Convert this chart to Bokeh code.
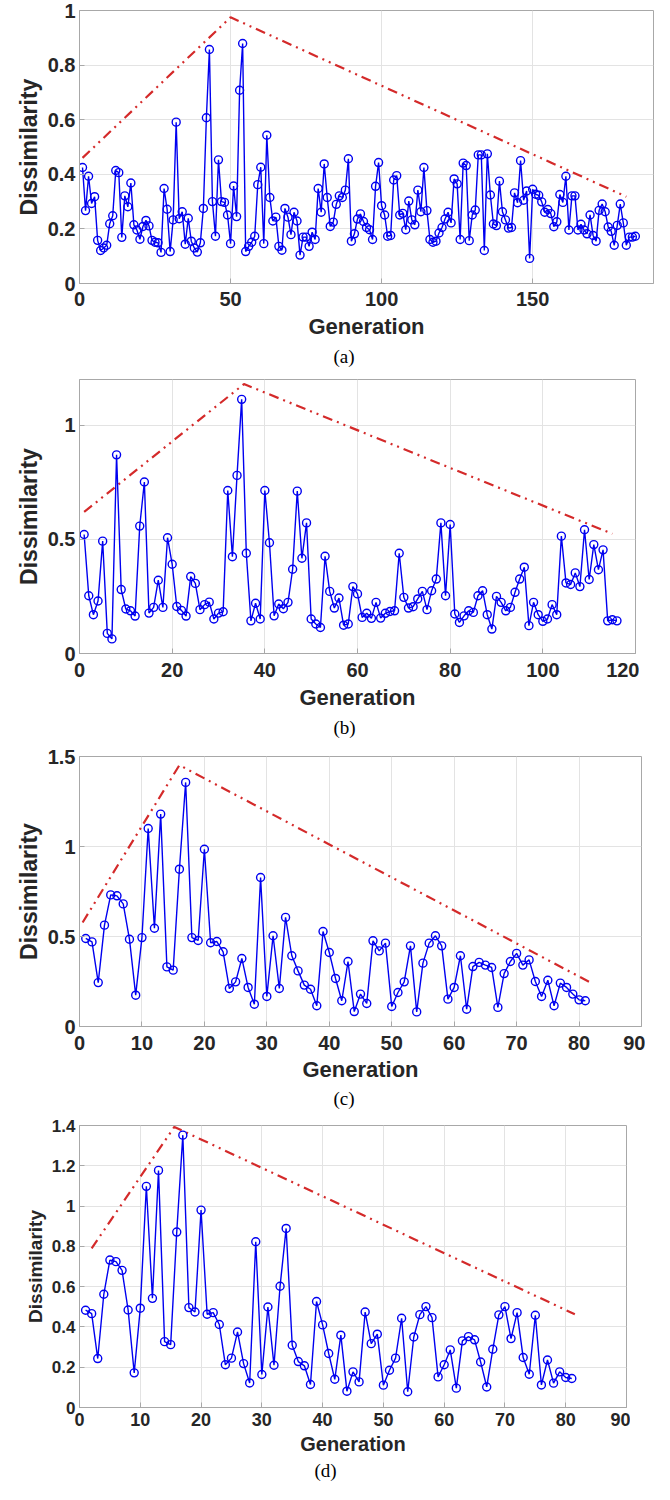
from bokeh.plotting import figure
from bokeh.layouts import column
from bokeh.models import FixedTicker, CustomJSTickFormatter, Title, Range1d
from bokeh.embed import file_html
from bokeh.resources import INLINE

# ---------------- data ----------------
gen_a = list(range(1, 185))
dis_a = [0.425, 0.267, 0.393, 0.293, 0.318, 0.158, 0.121, 0.130, 0.140, 0.219,
         0.248, 0.414, 0.406, 0.169, 0.321, 0.281, 0.368, 0.215, 0.196, 0.162,
         0.209, 0.231, 0.211, 0.158, 0.151, 0.149, 0.114, 0.348, 0.272, 0.117,
         0.233, 0.591, 0.237, 0.263, 0.144, 0.239, 0.155, 0.130, 0.115, 0.149,
         0.275, 0.607, 0.857, 0.300, 0.173, 0.453, 0.300, 0.297, 0.251, 0.146,
         0.357, 0.245, 0.708, 0.879, 0.117, 0.136, 0.151, 0.173, 0.362, 0.426,
         0.146, 0.543, 0.315, 0.229, 0.243, 0.136, 0.122, 0.275, 0.243, 0.179,
         0.261, 0.229, 0.104, 0.170, 0.170, 0.136, 0.188, 0.161, 0.348, 0.261,
         0.438, 0.315, 0.209, 0.225, 0.290, 0.321, 0.315, 0.342, 0.457, 0.155,
         0.182, 0.236, 0.255, 0.227, 0.205, 0.197, 0.161, 0.356, 0.443, 0.285,
         0.251, 0.173, 0.176, 0.379, 0.395, 0.251, 0.257, 0.197, 0.302, 0.233,
         0.215, 0.342, 0.263, 0.425, 0.267, 0.161, 0.151, 0.155, 0.185, 0.205,
         0.236, 0.261, 0.222, 0.383, 0.365, 0.161, 0.441, 0.432, 0.157, 0.251,
         0.269, 0.471, 0.471, 0.121, 0.475, 0.324, 0.218, 0.212, 0.375, 0.263,
         0.233, 0.203, 0.205, 0.332, 0.296, 0.450, 0.305, 0.339, 0.092, 0.345,
         0.327, 0.323, 0.299, 0.261, 0.271, 0.256, 0.208, 0.226, 0.326, 0.297,
         0.393, 0.196, 0.321, 0.321, 0.196, 0.217, 0.196, 0.182, 0.251, 0.176,
         0.155, 0.268, 0.291, 0.263, 0.207, 0.191, 0.140, 0.213, 0.291, 0.222,
         0.140, 0.170, 0.170, 0.173]
env_a_x = [1, 50, 181]
env_a_y = [0.46, 0.975, 0.318]

gen_b = list(range(1, 117))
dis_b = [0.521, 0.253, 0.170, 0.230, 0.492, 0.088, 0.064, 0.870, 0.280, 0.195,
         0.187, 0.164, 0.558, 0.751, 0.177, 0.202, 0.321, 0.202, 0.507, 0.391,
         0.206, 0.189, 0.164, 0.337, 0.307, 0.192, 0.214, 0.225, 0.151, 0.177,
         0.183, 0.714, 0.424, 0.780, 1.113, 0.439, 0.143, 0.220, 0.151, 0.714,
         0.485, 0.165, 0.217, 0.196, 0.224, 0.369, 0.711, 0.417, 0.572, 0.151,
         0.129, 0.114, 0.426, 0.272, 0.199, 0.243, 0.124, 0.129, 0.293, 0.261,
         0.158, 0.176, 0.154, 0.224, 0.155, 0.176, 0.184, 0.187, 0.439, 0.246,
         0.199, 0.205, 0.239, 0.272, 0.192, 0.275, 0.326, 0.572, 0.253, 0.565,
         0.173, 0.136, 0.165, 0.187, 0.180, 0.253, 0.275, 0.170, 0.107, 0.250,
         0.224, 0.187, 0.202, 0.268, 0.326, 0.378, 0.122, 0.224, 0.170, 0.141,
         0.151, 0.214, 0.170, 0.514, 0.309, 0.302, 0.353, 0.293, 0.542, 0.324,
         0.477, 0.367, 0.454, 0.143, 0.148, 0.143]
env_b_x = [1, 35.5, 115]
env_b_y = [0.62, 1.18, 0.524]

gen_c = list(range(1, 82))
dis_c = [0.489, 0.470, 0.244, 0.563, 0.731, 0.726, 0.681, 0.485, 0.174, 0.494,
         1.100, 0.546, 1.180, 0.331, 0.313, 0.874, 1.356, 0.494, 0.478, 0.985,
         0.465, 0.472, 0.415, 0.211, 0.248, 0.378, 0.217, 0.124, 0.828, 0.167,
         0.504, 0.211, 0.606, 0.393, 0.309, 0.230, 0.207, 0.115, 0.528, 0.411,
         0.267, 0.143, 0.361, 0.083, 0.180, 0.128, 0.476, 0.420, 0.463, 0.111,
         0.189, 0.248, 0.448, 0.081, 0.352, 0.463, 0.504, 0.448, 0.152, 0.217,
         0.393, 0.096, 0.333, 0.356, 0.341, 0.328, 0.106, 0.294, 0.361, 0.406,
         0.341, 0.370, 0.250, 0.167, 0.257, 0.115, 0.241, 0.217, 0.180, 0.148,
         0.143]
env_c_x = [0.5, 16, 82]
env_c_y = [0.578, 1.452, 0.241]

gen_d = list(range(1, 82))
dis_d = [0.483, 0.466, 0.243, 0.562, 0.732, 0.724, 0.681, 0.484, 0.172, 0.493,
         1.098, 0.542, 1.177, 0.327, 0.312, 0.871, 1.352, 0.496, 0.474, 0.980,
         0.463, 0.471, 0.412, 0.212, 0.245, 0.375, 0.218, 0.122, 0.823, 0.164,
         0.499, 0.210, 0.602, 0.889, 0.309, 0.228, 0.207, 0.114, 0.526, 0.410,
         0.268, 0.140, 0.359, 0.081, 0.177, 0.127, 0.474, 0.317, 0.364, 0.111,
         0.185, 0.245, 0.443, 0.078, 0.350, 0.461, 0.501, 0.446, 0.152, 0.212,
         0.286, 0.096, 0.331, 0.352, 0.336, 0.226, 0.102, 0.289, 0.460, 0.501,
         0.342, 0.471, 0.248, 0.165, 0.458, 0.112, 0.236, 0.121, 0.177, 0.149,
         0.144]
env_d_x = [2, 15.6, 81.5]
env_d_y = [0.79, 1.393, 0.463]

xticks_a = [0, 50, 100, 150]
xticks_b = [0, 20, 40, 60, 80, 100, 120]
xticks_cd = [0, 10, 20, 30, 40, 50, 60, 70, 80, 90]
yticks_a = [0, 0.2, 0.4, 0.6, 0.8, 1.0]
yticks_b = [0, 0.5, 1.0]
yticks_c = [0, 0.5, 1.0, 1.5]
yticks_d = [0, 0.2, 0.4, 0.6, 0.8, 1.0, 1.2, 1.4]

TXT = "#262626"
BOX = "#a8a8a8"
FONT = "Liberation Sans"


def panel(gx, gy, ex, ey, xmax, ymax, xticks, yticks, fw, fh, bl, bt, bb,
          caption, cap_off, xtick_fs, ytick_fs, xlab_fs, ylab_fs,
          xl_so, xa_so, t_so):
    p = figure(width=bl + fw + 4, height=bt + fh + bb,
               x_range=Range1d(0, xmax), y_range=Range1d(0, ymax),
               output_backend="svg", toolbar_location=None,
               min_border_left=bl, min_border_right=4,
               min_border_top=bt, min_border_bottom=bb)
    p.outline_line_color = BOX
    p.outline_line_width = 1
    p.background_fill_color = "white"
    p.border_fill_color = "white"
    p.grid.grid_line_color = "#e3e3e3"
    p.grid.grid_line_width = 1
    p.xaxis.ticker = FixedTicker(ticks=xticks)
    p.yaxis.ticker = FixedTicker(ticks=yticks)
    fmt = "return (Math.round(tick*10)/10).toString();"
    p.xaxis.formatter = CustomJSTickFormatter(code=fmt)
    p.yaxis.formatter = CustomJSTickFormatter(code=fmt)
    for ax, tfs in ((p.xaxis, xtick_fs), (p.yaxis, ytick_fs)):
        ax.axis_line_color = BOX
        ax.major_tick_line_color = BOX
        ax.major_tick_in = 5
        ax.major_tick_out = 0
        ax.minor_tick_in = 0
        ax.minor_tick_out = 0
        ax.major_label_text_font = FONT
        ax.major_label_text_font_style = "bold"
        ax.major_label_text_font_size = tfs
        ax.major_label_text_color = TXT
        ax.axis_label_text_font = FONT
        ax.axis_label_text_font_style = "bold"
        ax.axis_label_text_color = TXT
    p.xaxis.axis_label = "Generation"
    p.xaxis.axis_label_text_font_size = xlab_fs
    p.xaxis.major_label_standoff = xl_so
    p.xaxis.axis_label_standoff = xa_so
    p.yaxis.axis_label = "Dissimilarity"
    p.yaxis.axis_label_text_font_size = ylab_fs
    p.yaxis.major_label_standoff = 4
    p.yaxis.axis_label_standoff = 3

    p.line(ex, ey, line_color="#d42a2a", line_width=2.2,
           line_dash="10 5 2 5 2 5")
    p.line(gx, gy, line_color="#0000f0", line_width=1.4)
    p.scatter(gx, gy, marker="circle", size=8, fill_color=None,
              line_color="#0000f0", line_width=1.4)

    t = Title(text=caption, align="left", offset=cap_off,
              text_font="Liberation Serif", text_font_style="normal",
              text_font_size="19px", text_color="black", standoff=t_so)
    p.add_layout(t, "below")
    return p


pa = panel(gen_a, dis_a, env_a_x, env_a_y, 190, 1.0, xticks_a, yticks_a,
           593, 273, 60, 10, 89, "(a)", 254, "20px", "20px", "22px", "23px",
           8, 5, 4)
pb = panel(gen_b, dis_b, env_b_x, env_b_y, 120, 1.2, xticks_b, yticks_b,
           575, 274, 60, 7, 91, "(b)", 254, "20px", "20px", "22px", "23px",
           9, 5, 5)
pc = panel(gen_c, dis_c, env_c_x, env_c_y, 90, 1.5, xticks_cd, yticks_c,
           581, 270, 60, 12, 88, "(c)", 254, "20px", "20px", "22px", "23px",
           9, 4, 3)
pd = panel(gen_d, dis_d, env_d_x, env_d_y, 90, 1.4, xticks_cd, yticks_d,
           547, 282, 79, 11, 77, "(d)", 235, "18px", "17px", "20px", "19px",
           5, 4, 1)

layout = column(pa, pb, pc, pd, spacing=0)
open("out.html", "w").write(file_html(layout, INLINE))
